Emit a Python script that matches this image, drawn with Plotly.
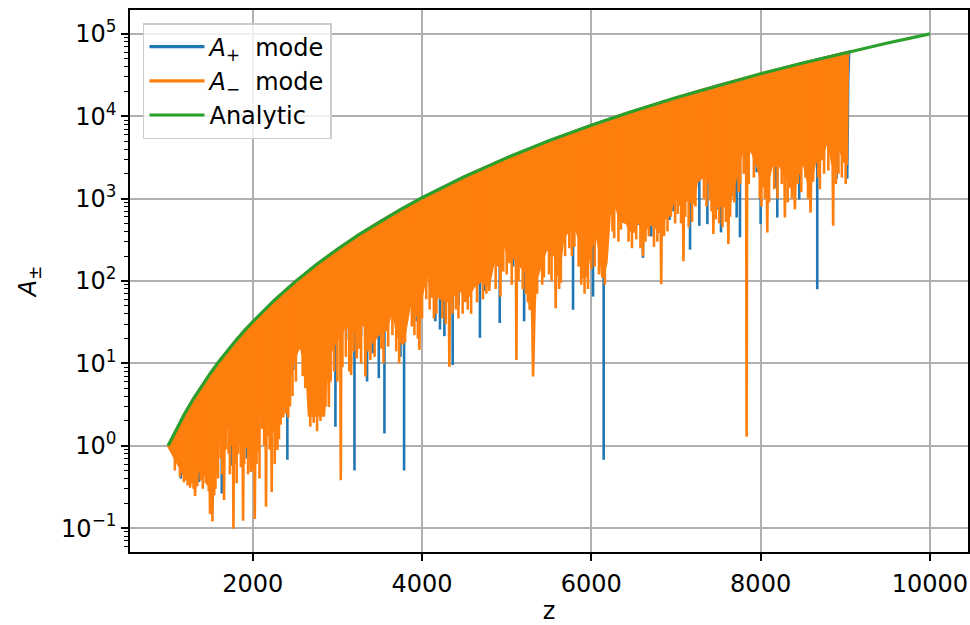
import plotly.graph_objects as go

# ---------------- data ----------------
# Analytic curve
analytic_z = [1000, 1100, 1200, 1300, 1400, 1500, 1600, 1700, 1800, 1900, 2000,
              2250, 2500, 2750, 3000, 3250, 3500, 3750, 4000, 4500, 5000, 5500,
              6000, 6500, 7000, 7500, 8000, 8500, 9000, 9500, 10000]
analytic_A = [1, 1.611, 2.488, 3.713, 5.378, 7.594, 10.49, 14.20, 18.90, 24.76, 32.0,
              57.67, 97.66, 157.3, 243.0, 362.6, 525.2, 741.6, 1024, 1845, 3125, 5033,
              7776, 11603, 16807, 23730, 32768, 44371, 59049, 77378, 100000]

# A- mode: upper-edge notches, end point, lower edge of the dense oscillation band
minus_notch_z = [3825, 3831, 3837, 4828, 4834, 4840, 6375, 6381, 6387, 7284, 7290, 7296]
minus_notch_A = [818.9, 468, 831.8, 2623, 891, 2657, 10530, 6918, 10628, 20505, 10000, 20675]
minus_end_z = 9035
minus_end_A = 60200
minus_low_z = [
    1000, 1052, 1111, 1170, 1203, 1209, 1215, 1240, 1254, 1260, 1266, 1290, 1313, 1319, 1325,
    1366, 1400, 1425, 1459, 1465, 1471, 1490, 1496, 1505, 1518, 1524, 1530, 1550, 1575, 1602,
    1655, 1661, 1667, 1701, 1740, 1766, 1772, 1778, 1799, 1840, 1880, 1886, 1892, 1917, 1970,
    1976, 1982, 2018, 2024, 2030, 2063, 2094, 2120, 2151, 2157, 2163, 2181, 2218, 2224, 2230,
    2271, 2285, 2291, 2297, 2339, 2383, 2389, 2395, 2448, 2487, 2535, 2566, 2605, 2634, 2665,
    2841, 2881,
    2893, 2899, 2905, 2946, 3034, 3040, 3046, 3084, 3123, 3156, 3162, 3168, 3223, 3229, 3235,
    3300, 3325, 3331, 3337, 3418, 3480, 3575, 3634, 3674, 3713, 3772, 3820, 3858, 3937, 3963,
    3969, 3975, 4028, 4067, 4118, 4200, 4317, 4323, 4329, 4460, 4511, 4617, 4700, 4788, 4794,
    4800,
    4879, 4920, 4926, 4932, 4990, 5036, 5080, 5109, 5115, 5121, 5162, 5240, 5266, 5272, 5300,
    5312, 5330, 5343, 5390, 5470, 5573, 5579, 5585, 5607, 5666, 5705, 5823, 5860, 5894, 5941,
    5980, 6059, 6110, 6130, 6177, 6216, 6295, 6334, 6420, 6452, 6500, 6560, 6604, 6610, 6616,
    6700, 6820, 6826, 6832, 6885, 6924,
    6964, 7000, 7048, 7082, 7088, 7094, 7127, 7206, 7245, 7300, 7343, 7383, 7436, 7442, 7448,
    7481, 7567, 7613, 7619, 7625, 7658, 7720, 7776, 7829, 7835, 7841, 7894, 7960, 8031, 8073,
    8079, 8085, 8130, 8228, 8281, 8287, 8293, 8346, 8399, 8405, 8411, 8503, 8584, 8590, 8596,
    8641, 8720, 8779, 8818, 8851, 8857, 8863, 8936, 8995, 9018, 9030]
minus_low_A = [
    1.0, 0.776, 0.603, 0.479, 0.417, 0.38, 0.43, 0.437, 0.417, 0.309, 0.417, 0.437, 0.417, 0.245, 0.437,
    0.501, 0.525, 0.437, 0.457, 0.331, 0.457, 0.398, 0.148, 0.316, 0.316, 0.12, 0.355, 0.398, 0.631, 1.29,
    1.26, 0.219, 1.32, 1.86, 1.78, 1.66, 0.098, 1.66, 1.70, 1.12, 1.0, 0.123, 1.0, 0.977, 0.955,
    0.479, 0.955, 0.933, 0.129, 0.933, 0.891, 5.6, 3.0, 2.24, 0.182, 2.24, 2.24, 2.51, 0.275, 2.51,
    2.82, 2.82, 0.891, 2.95, 2.95, 3.55, 2.45, 3.98, 7.59, 11.0, 14.8, 16.2, 11.0, 8.91, 2.34,
    2.34, 12.6,
    10.0, 2.95, 12.6, 15.8, 22.4, 0.38, 22.4, 28.2, 28.2, 25.1, 7.24, 25.1, 25.1, 11.5, 28.2,
    29.5, 28.2, 6.92, 28.2, 17.8, 22.4, 25.7, 40.7, 35.5, 21.4, 17.0, 31.6, 53.7, 38.9, 39.8,
    14.5, 50.1, 95.5, 126, 64.6, 63.1, 56.2, 9.12, 63.1, 79.4, 56.2, 87.1, 100, 89.1, 75.9,
    100,
    251, 251, 64.6, 282, 251, 166, 200, 178, 11.0, 178, 151, 126, 100, 44.7, 50.1,
    6.92, 50.1, 100, 138, 251, 200, 46.8, 158, 115, 316, 380, 417, 316, 110, 115,
    229, 380, 200, 110, 166, 631, 813, 550, 501, 417, 398, 562, 398, 200, 398,
    501, 398, 91.2, 501, 617, 631,
    891, 1072, 851, 891, 174, 891, 977, 891, 1585, 1778, 1905, 1660, 1259, 372, 1259,
    813, 813, 794, 282, 794, 1072, 1995, 3631, 3631, 1.29, 3631, 3802, 2512, 1413, 1413,
    389, 1585, 2512, 2512, 2000, 589, 2200, 1413, 1259, 741, 1585, 2884, 1259, 676, 1585,
    2754, 3020, 5000, 3981, 2512, 468, 3162, 3981, 2754, 2692, 52481]
# further A- minima (single deep oscillations)
minus_spike_z = [
    1080, 1140, 1185, 1230, 1280, 1300, 1345, 1385, 1410, 1445, 1480, 1545, 1560, 1590, 1620,
    1640, 1685, 1715, 1730, 1755, 1790, 1810, 1830, 1860, 1900, 1945, 2000, 2045, 2080, 2110,
    2135, 2175, 2200, 2245, 2260, 2310, 2330, 2360, 2420, 2440, 2470, 2510, 2590, 2620, 2680,
    2720, 2760, 2800, 2860,
    2920, 2960, 3000, 3060, 3100, 3140, 3190, 3260, 3280, 3360, 3390, 3440, 3520, 3545, 3600,
    3650, 3695, 3730, 3800, 3880, 3910, 3950, 4000, 4050, 4090, 4140, 4170, 4240, 4280, 4360,
    4400, 4430, 4480, 4540, 4580, 4650, 4720, 4760, 4870,
    4900, 4960, 5000, 5060, 5140, 5190, 5225, 5250, 5360, 5420, 5440, 5500, 5530, 5620, 5640,
    5690, 5740, 5770, 5800, 5850, 5880, 5920, 5960, 6000, 6040, 6090, 6160, 6250, 6270, 6320,
    6350, 6440, 6480, 6530, 6580, 6640, 6680, 6740, 6780, 6860, 6900,
    6940, 6990, 7020, 7060, 7110, 7150, 7190, 7230, 7330, 7360, 7400, 7420, 7470, 7510, 7550,
    7590, 7640, 7690, 7740, 7760, 7800, 7860, 7920, 7990, 8010, 8050, 8100, 8160, 8200, 8250,
    8320, 8370, 8440, 8480, 8530, 8560, 8620, 8680, 8700, 8750, 8800, 8890, 8920, 8960, 9005]
minus_spike_A = [
    0.5, 0.42, 0.36, 0.33, 0.35, 0.30, 0.32, 0.38, 0.30, 0.35, 0.28, 0.25, 0.30, 0.40, 0.7,
    0.45, 0.9, 0.8, 0.45, 1.0, 0.6, 0.35, 0.8, 0.55, 0.6, 0.45, 0.5, 0.6, 0.4, 1.6,
    1.0, 1.3, 0.9, 1.5, 0.6, 1.2, 1.8, 2.2, 2.2, 3.0, 4.0, 6.0, 7.0, 5.0, 1.7,
    1.9, 1.5, 2.0, 3.0,
    6, 8, 6, 9, 12, 8, 14, 15, 10, 14, 11, 12, 15, 10, 16,
    22, 14, 10, 18, 28, 22, 20, 35, 60, 45, 35, 40, 35, 30, 40,
    45, 35, 40, 45, 40, 55, 60, 70, 80,
    150, 130, 120, 90, 100, 80, 70, 55, 70, 90, 110, 120, 100, 80, 95,
    200, 250, 200, 260, 150, 90, 70, 80, 140, 150, 120, 90, 400, 330, 300,
    420, 300, 250, 320, 250, 300, 350, 260, 300, 350, 400,
    600, 500, 650, 500, 600, 450, 520, 800, 1000, 800, 950, 700, 560, 500, 450,
    520, 600, 900, 1200, 1500, 2000, 1500, 1800, 1000, 800, 1000, 900, 1300, 1000, 1500,
    900, 1000, 1500, 1200, 1800, 1000, 1600, 1800, 1300, 2000, 2200, 1500, 2000, 1800, 1500]

# A+ mode: band (mostly hidden under A-), its notch, end, and visible deep minima
plus_notch_z = [6375, 6381, 6387]
plus_notch_A = [10530, 7943, 10628]
plus_end_z = 9045
plus_end_A = 60500
plus_low_z = [1000, 1200, 1500, 1800, 2000, 2200, 2400, 2600, 2800, 3000, 3500, 4000, 4500,
              5000, 5500, 6000, 6500, 7000, 7500, 8000, 8500, 9000, 9020, 9023, 9027, 9035, 9045]
plus_low_A = [1.0, 1.5, 3, 5, 8, 12, 18, 30, 40, 60, 100, 200, 300,
              500, 700, 1000, 1500, 2500, 3500, 5000, 7000, 9000, 9000, 1738, 7079, 28184, 60000]
plus_spike_z = [
    1150, 1366, 1634, 1720, 1740, 1819, 1929, 2106, 2339, 2409, 2480, 2640, 2977, 3103, 3202,
    3280, 3351, 3418, 3489, 3556, 3745, 3788, 3890, 3937, 4157, 4212, 4264, 4362, 4433, 4558,
    4684, 4735, 4918, 5076, 5206, 5469, 5508, 5784, 6020, 6146, 6551, 6610, 6708, 6787, 6924,
    6970, 7166, 7276, 7371, 7481, 7532, 7697, 7717, 7756, 7953, 8000, 8169, 8197, 8456, 8543,
    8669, 8897]
plus_spike_A = [
    0.40, 0.363, 0.263, 1.55, 0.575, 0.891, 0.7, 2.45, 2.45, 0.676, 8.3, 6.0, 1.70, 19.5, 0.501,
    21.4, 6.03, 13.2, 6.61, 1.41, 12.0, 0.501, 30.0, 32.4, 32.4, 25.7, 21.4, 9.55, 51.3, 67.6,
    20.4, 75.9, 30.9, 150, 32.4, 240, 200, 44.7, 64.6, 0.676, 480, 191, 347, 380, 550,
    700, 240, 468, 490, 741, 389, 1000, 589, 339, 2089, 490, 1349, 589, 977, 1820,
    79.4, 1738]

# Tick labels
x_ticks = [2000, 4000, 6000, 8000, 10000]
x_ticktext = ["2000", "4000", "6000", "8000", "10000"]
y_ticks = [0.1, 1, 10, 100, 1000, 10000, 100000]
y_ticktext = ["10<sup>\u22121</sup>", "10<sup>0</sup>", "10<sup>1</sup>", "10<sup>2</sup>",
              "10<sup>3</sup>", "10<sup>4</sup>", "10<sup>5</sup>"]

BLUE = "#1f77b4"
ORANGE = "#ff7f0e"
GREEN = "#2ca02c"
LW = 2.6


def band(notch_z, notch_A, end_z, end_A, low_z, low_A):
    """Closed outline: maxima (envelope) left->right, minima right->left."""
    pts = [(z, a) for z, a in zip(analytic_z, analytic_A) if z < end_z]
    pts += list(zip(notch_z, notch_A))
    pts.append((end_z, end_A))
    pts.sort()
    tz = [p[0] for p in pts]
    ta = [p[1] for p in pts]
    return tz + low_z[::-1], ta + low_A[::-1]


def spikes(sz, sa):
    """Vertical strokes from inside the band (last analytic maximum before z) down to a minimum."""
    xs, ys = [], []
    for z, a in zip(sz, sa):
        top = max(v for zz, v in zip(analytic_z, analytic_A) if zz <= z)
        xs += [z, z, None]
        ys += [top, a, None]
    return xs, ys


fig = go.Figure()

pz, pa = band(plus_notch_z, plus_notch_A, plus_end_z, plus_end_A, plus_low_z, plus_low_A)
fig.add_trace(go.Scatter(x=pz, y=pa, mode="lines", fill="toself", fillcolor=BLUE,
                         line=dict(color=BLUE, width=LW), showlegend=False, hoverinfo="skip"))
sx, sy = spikes(plus_spike_z, plus_spike_A)
fig.add_trace(go.Scatter(x=sx, y=sy, mode="lines", line=dict(color=BLUE, width=LW),
                         showlegend=False, hoverinfo="skip"))

mz, ma = band(minus_notch_z, minus_notch_A, minus_end_z, minus_end_A, minus_low_z, minus_low_A)
fig.add_trace(go.Scatter(x=mz, y=ma, mode="lines", fill="toself", fillcolor=ORANGE,
                         line=dict(color=ORANGE, width=LW), showlegend=False, hoverinfo="skip"))
sx, sy = spikes(minus_spike_z, minus_spike_A)
fig.add_trace(go.Scatter(x=sx, y=sy, mode="lines", line=dict(color=ORANGE, width=LW),
                         showlegend=False, hoverinfo="skip"))

fig.add_trace(go.Scatter(x=analytic_z, y=analytic_A, mode="lines",
                         line=dict(color=GREEN, width=3.2), showlegend=False, hoverinfo="skip"))

# legend entries
fig.add_trace(go.Scatter(x=[None], y=[None], mode="lines", line=dict(color=BLUE, width=3.2),
                         name="<i>A</i><sub>+</sub>  mode", legendgroup="p"))
fig.add_trace(go.Scatter(x=[None], y=[None], mode="lines", line=dict(color=ORANGE, width=3.2),
                         name="<i>A</i><sub>\u2212</sub>  mode", legendgroup="m"))
fig.add_trace(go.Scatter(x=[None], y=[None], mode="lines", line=dict(color=GREEN, width=3.2),
                         name="Analytic", legendgroup="a"))

minor_vals = [m * 10.0 ** e for e in range(-2, 5) for m in range(2, 10)
              if 0.05 < m * 10.0 ** e < 195000]

axis_common = dict(ticks="outside", ticklen=7, tickwidth=1.6, tickcolor="black",
                   showline=True, linecolor="black", linewidth=1.6, mirror=True,
                   showgrid=True, gridcolor="#b0b0b0", gridwidth=1.6, zeroline=False,
                   automargin=False, tickfont=dict(size=24, color="black"))

fig.update_layout(
    width=970, height=625,
    margin=dict(l=130, r=2, t=10, b=73, autoexpand=False),
    paper_bgcolor="white", plot_bgcolor="white",
    font=dict(family="DejaVu Sans", size=24, color="black"),
    legend=dict(x=0.0155, y=0.976, xanchor="left", yanchor="top",
                bgcolor="rgba(255,255,255,0.8)", bordercolor="#cccccc", borderwidth=1.5,
                font=dict(size=24), traceorder="grouped", tracegroupgap=0, itemwidth=55),
    xaxis=dict(range=[550, 10450], tickmode="array", tickvals=x_ticks, ticktext=x_ticktext,
               ticklabelstandoff=2,
               title=dict(text="z", standoff=16, font=dict(size=24)), **axis_common),
    yaxis=dict(type="log", range=[-1.29, 5.29], tickmode="array", tickvals=y_ticks,
               ticktext=y_ticktext, ticklabelstandoff=0,
               minor=dict(tickmode="array", tickvals=minor_vals, ticks="outside", ticklen=4,
                          tickwidth=1.2, tickcolor="black", showgrid=False),
               title=dict(text="<i>A</i><sub>\u00b1</sub>", standoff=18, font=dict(size=24)),
               **axis_common),
)

# let the figure sit at the page origin (no default body margin / scrollbars)
page_fix = "document.body.style.margin='0';document.body.style.overflow='hidden';"
fig.write_html("out.html", post_script=page_fix, config={"displayModeBar": False})
